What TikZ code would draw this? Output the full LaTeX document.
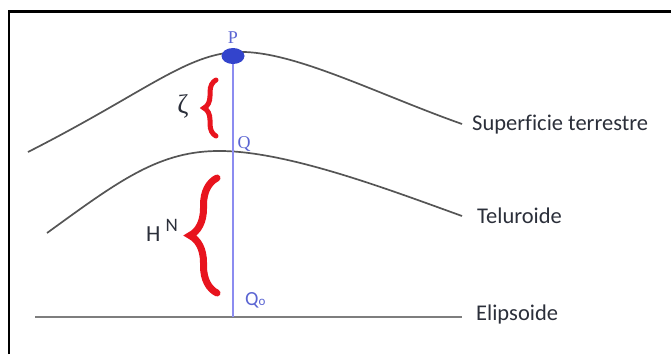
\documentclass[tikz,border=0pt]{standalone}
\usepackage{fontspec}
\setmainfont{Carlito}[Ligatures={NoCommon}]
\newfontfamily\serifgr{Liberation Serif}
\usetikzlibrary{decorations.pathreplacing, shapes.geometric}
\definecolor{curvegray}{HTML}{555555}
\definecolor{linegray}{HTML}{7E7E7E}
\definecolor{ptblue}{HTML}{3344CC}
\definecolor{vertblue}{HTML}{8C8CF0}
\definecolor{lblblue}{HTML}{5A64D2}
\definecolor{bracered}{HTML}{E8141E}
\definecolor{txtdark}{HTML}{2B2F3A}

\begin{document}
\begin{tikzpicture}[
  x=1pt, y=-1pt,
  surf/.style={curvegray, line width=1.7pt},
  sidelabel/.style={anchor=base west, text=txtdark, inner sep=0pt, font=\fontsize{22.5}{27}\selectfont},
  ptlabel/.style={text=lblblue, inner sep=0pt, font=\serifgr\fontsize{18}{20}\selectfont},
  redbrace/.style={bracered, decorate, line cap=round},
]
\useasboundingbox (0,0) rectangle (671,354);

% Frame (only left and top edges show)
\draw[black, line width=2.2pt] (9,354) -- (9,11.5) -- (671,11.5);

% Superficie terrestre
\draw[surf] (28,152) .. controls (150,90) and (190,50) .. (245,52)
  .. controls (300,54) and (380,95) .. (462,124);
\node[sidelabel] (sup) at (472,130) {Superficie terrestre};

% Teluroide
\draw[surf] (47,233) .. controls (120,180) and (160,150) .. (222,151)
  .. controls (290,152) and (390,190) .. (462,216);
\node[sidelabel] (tel) at (477,223) {Teluroide};

% Elipsoide
\draw[linegray, line width=2pt] (35,317) -- (462,317);
\node[sidelabel] (eli) at (476,320) {Elipsoide};

% Vertical through P
\coordinate (Pc) at (233,56);
\coordinate (Qo) at (233,317);
\draw[vertblue, line width=1.4pt] (Pc) -- (Qo);
\node[ellipse, fill=ptblue, minimum width=23pt, minimum height=16pt, inner sep=0pt] (P) at (Pc) {};

% Point labels
\node[ptlabel] (Plbl) at (233,38) {P};
\node[ptlabel] (Qlbl) at (244,144) {Q};
\node[anchor=base west, inner sep=0pt, text=lblblue, font=\fontsize{20}{20}\selectfont]
  (Qolbl) at (245,305) {Q{\fontsize{13}{13}\selectfont o}};

% Braces
\draw[redbrace, line width=5pt, decoration={brace, amplitude=12pt}] (216,136) -- (216,80);
\draw[redbrace, line width=7pt, decoration={brace, amplitude=27pt}] (217,293) -- (217,178);

% zeta and H^N
\node[text=txtdark, inner sep=0pt, font=\serifgr\fontsize{27}{27}\selectfont] (zeta) at (183,106) {ζ};
\node[anchor=base west, inner sep=0pt, text=txtdark, font=\fontsize{23}{23}\selectfont]
  (HN) at (146,241) {H\hspace{5pt}\raisebox{10pt}{\fontsize{19}{19}\selectfont N}};

\end{tikzpicture}
\end{document}
